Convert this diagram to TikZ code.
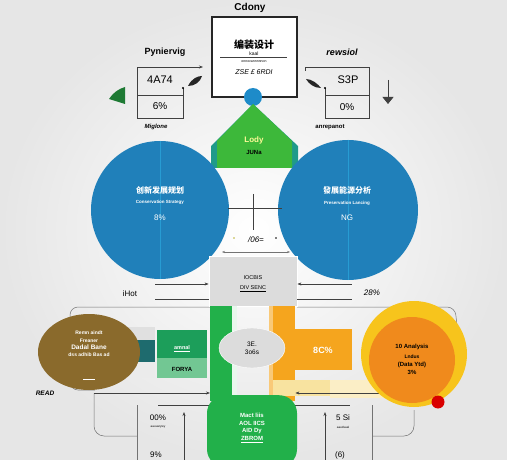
\documentclass[tikz,border=0pt]{standalone}
\usepackage{fontspec}
\setmainfont{Liberation Sans}
\newfontfamily\cjk{Noto Sans CJK SC}
\usetikzlibrary{arrows.meta,shapes.geometric,calc}
\definecolor{bg}{HTML}{E6E6E6}
\definecolor{cblue}{HTML}{2080BA}
\definecolor{dotblue}{HTML}{1E8BC9}
\definecolor{hgreen}{HTML}{3DB83A}
\definecolor{hteal}{HTML}{1F9A8A}
\definecolor{bgreen}{HTML}{22B04A}
\definecolor{dgreen}{HTML}{1C9E5A}
\definecolor{lgreen}{HTML}{72C793}
\definecolor{dteal}{HTML}{1E6B6E}
\definecolor{brown}{HTML}{8A6A2C}
\definecolor{orng}{HTML}{F5A51E}
\definecolor{dorng}{HTML}{F08A1C}
\definecolor{yell}{HTML}{F7C41C}
\definecolor{pyell}{HTML}{F8E3A0}
\definecolor{lgrey}{HTML}{DCDCDC}
\definecolor{leaf}{HTML}{1E7A34}
\tikzset{
  ln/.style={draw=black!75,line width=0.6pt},
  lnlight/.style={draw=black!55,line width=0.5pt},
  lbl/.style={font=\bfseries\fontsize{9}{10}\selectfont,inner sep=0pt},
  small/.style={font=\fontsize{5}{6}\selectfont,inner sep=0pt},
  numtxt/.style={font=\fontsize{10}{11}\selectfont,inner sep=0pt},
  wtxt/.style={text=white,font=\bfseries\fontsize{6}{7}\selectfont,inner sep=0pt,align=center},
  tip/.style={-{Stealth[length=4pt,width=3pt]}}
}
\begin{document}
\begin{tikzpicture}[x=1pt,y=-1pt]
\useasboundingbox (0,0) rectangle (507,460);
\shade[inner color=white,outer color=bg] (0,0) rectangle (507,460);

% top title and central box
\node[lbl,font=\bfseries\fontsize{10}{11}\selectfont] (title) at (250,8) {Cdony};
\node[draw=black!85,line width=1.3pt,fill=white,minimum width=85pt,minimum height=80pt,inner sep=0pt] (cbox) at (254.5,57) {};
\node[font=\cjk\bfseries\fontsize{10}{11}\selectfont,inner sep=0pt] (ctitle) at (254,45) {编装设计};
\node[small] (ckaal) at (254,54) {kaal};
\draw[ln] (220,57) -- (287,57);
\node[small,font=\fontsize{3.5}{4}\selectfont] (csub) at (254,62) {onnovannnnnon};
\node[font=\itshape\fontsize{7}{8}\selectfont,inner sep=0pt] (cval) at (254,72) {ZSE £ 6RDI};
\node[circle,fill=dotblue,minimum size=18pt,inner sep=0pt] (dot) at (253,97) {};

% green house
\fill[hteal] (253,104) -- (298,146) -- (298,168) -- (211,168) -- (211,146) -- cycle;
\fill[hgreen] (253,104) -- (292,141) -- (292,168) -- (217,168) -- (217,141) -- cycle;
\node[text=yellow!40,font=\bfseries\fontsize{8}{9}\selectfont,inner sep=0pt] (lody) at (254,140) {Lody};
\node[font=\bfseries\fontsize{6}{7}\selectfont,inner sep=0pt] (juna) at (254,152) {JUNa};

% left panel
\node[lbl] (ltitle) at (165,52) {Pyniervig};
\coordinate (lp1) at (183,88);
\coordinate (lp2) at (203,67);
\draw[ln,tip] (lp1) -- (183,118) -- (137,118) -- (137,67) -- (lp2);
\draw[ln] (137,95) -- (183,95);
\node[numtxt,font=\fontsize{11}{12}\selectfont] (lval) at (160,80) {4A74};
\node[numtxt] (lpct) at (160,106) {6\%};
\node[font=\bfseries\itshape\fontsize{6}{7}\selectfont,inner sep=0pt] (llab) at (156,127) {Miglone};
\fill[black!85] (188,86) .. controls (192,78) and (198,76) .. (202,76) .. controls (200,82) and (195,86) .. (188,86);
\fill[black] (lp1) circle (1.2);
\fill[leaf] (125,87) -- (125,104) -- (109,99) .. controls (113,93) and (118,89) .. (125,87);

% right panel
\node[lbl,font=\bfseries\itshape\fontsize{9}{10}\selectfont] (rtitle) at (342,52) {rewsiol};
\coordinate (rp1) at (325,88);
\coordinate (rp2) at (305,67);
\draw[ln] (rp1) -- (325,118) -- (369,118) -- (369,67) -- (rp2) -- ++(0,4);
\draw[ln] (325,95) -- (369,95);
\node[numtxt,font=\fontsize{11}{12}\selectfont] (rval) at (348,80) {S3P};
\node[numtxt] (rpct) at (347,107) {0\%};
\node[font=\bfseries\fontsize{6}{7}\selectfont,inner sep=0pt] (rlab) at (330,127) {anrepanot};
\fill[black!85] (306,79) .. controls (312,79) and (318,84) .. (321,88) .. controls (314,88) and (309,84) .. (306,79);
\fill[black] (rp1) circle (1.2);
\coordinate (rarr1) at (388,80);
\coordinate (rarr2) at (388,104);
\draw[ln,line width=0.8pt,-{Triangle[length=7pt,width=11pt]}] (rarr1) -- (rarr2);

% big circles
\node[circle,fill=cblue,minimum size=138pt,inner sep=0pt] (lc) at (160,210) {};
\draw[cyan!60!cblue,line width=0.7pt] (lc.north) -- (lc.south);
\node[wtxt,font=\cjk\bfseries\fontsize{8}{9}\selectfont] (lct) at (160,190) {创新发展规划};
\node[wtxt,font=\bfseries\fontsize{4.5}{5}\selectfont] (lcs) at (160,202) {Conservation Strategy};
\node[wtxt,font=\fontsize{8}{9}\selectfont] (lcv) at (160,218) {8\%};

\node[circle,fill=cblue,minimum size=140pt,inner sep=0pt] (rc) at (348,210) {};
\draw[cyan!60!cblue,line width=0.7pt] (rc.north) -- (rc.south);
\node[wtxt,font=\cjk\bfseries\fontsize{8}{9}\selectfont] (rct) at (347,190) {發展能源分析};
\node[wtxt,font=\bfseries\fontsize{4.5}{5}\selectfont] (rcs) at (347,203) {Preservation Lancing};
\node[wtxt,font=\fontsize{8}{9}\selectfont] (rcv) at (347,218) {NG};

% cross between circles
\coordinate (cx1) at (253,194);
\coordinate (cx2) at (253,230);
\coordinate (cy1) at (228,208);
\coordinate (cy2) at (282,208);
\draw[ln,line width=0.9pt] (cx1) -- (cx2);
\draw[ln,line width=0.9pt] (cy1) -- (cy2);
\node[font=\itshape\fontsize{8}{9}\selectfont,inner sep=0pt] (mid) at (256,240) {/06=};
\fill[yellow!70!black] (234,238) circle (0.9);
\fill[black] (276,238) circle (0.9);

% outline and lower lines (behind shapes)
\draw[lnlight,rounded corners=8pt] (95,390) -- (70,390) -- (70,307) -- (210,307);
\draw[lnlight,rounded corners=8pt] (297,307) -- (455,307) -- (458,335);
\draw[lnlight,rounded corners=10pt] (94,393) -- (94,436) -- (137,436);
\draw[lnlight,rounded corners=10pt] (372,436) -- (414,436) -- (414,410);
\coordinate (bl1) at (94,393);
\coordinate (br1) at (393,393);
\coordinate (bl2) at (158,405);
\coordinate (br2) at (350,405);

% middle grey box
\coordinate (ma1) at (222,252);
\coordinate (ma2) at (290,252);
\draw[lnlight,{Stealth[length=3pt]}-{Stealth[length=3pt]}] (ma1) -- (ma2);
\node[fill=lgrey,draw=white,line width=0.8pt,minimum width=88pt,minimum height=50pt,inner sep=0pt] (mbox) at (253,281) {};
\node[font=\fontsize{5.5}{6}\selectfont,inner sep=0pt] (mt1) at (253,278) {IOCBIS};
\node[font=\fontsize{5.5}{6}\selectfont,inner sep=0pt] (mt2) at (253,289) {\underline{DIV SENC}};
\coordinate (ll1) at (155,284);
\coordinate (ll2) at (155,299);
\coordinate (rl1) at (352,284);
\coordinate (rl2) at (352,299);
\draw[ln,tip] (ll1) -- (mbox.west |- ll1);
\draw[ln] (ll2) -- (mbox.west |- ll2);
\draw[ln,{Stealth[length=4pt,width=3pt]}-] (mbox.east |- rl1) -- (rl1);
\draw[ln] (mbox.east |- rl2) -- (rl2);
\node[font=\fontsize{8}{9}\selectfont,inner sep=0pt] (hot) at (130,294) {iHot};
\node[font=\itshape\fontsize{8}{9}\selectfont,inner sep=0pt] (p28) at (372,293) {28\%};

% lower bars
\node[fill=bgreen,minimum width=22pt,minimum height=95pt,inner sep=0pt,anchor=north west] (gbar) at (210,306) {};
\fill[white!90!bgreen] (232,306) rectangle (237,400);
\node[fill=orng,minimum width=22pt,minimum height=95pt,inner sep=0pt,anchor=north west] (obarv) at (273,306) {};
\fill[orng!60!white] (269,306) rectangle (273,400);
\node[fill=orng,minimum width=58pt,minimum height=41pt,inner sep=0pt] (obar) at (323,349) {};
\node[text=white,font=\bfseries\fontsize{9}{10}\selectfont,inner sep=0pt] (p8c) at (323,350) {8C\%};
\fill[pyell] (273,380) rectangle (350,396);
\fill[pyell!60!white] (330,380) rectangle (420,398);
\draw[ln,tip] (bl1) -- (gbar.west |- bl1);
\draw[ln] (bl2) -- (gbar.west |- bl2);
\draw[ln,{Stealth[length=4pt,width=3pt]}-] (obarv.east |- br1) -- (br1);
\draw[ln] (obarv.east |- br2) -- (br2);
\node[ellipse,fill=lgrey,draw=white,minimum width=66pt,minimum height=40pt,inner sep=0pt] (mell) at (252,348) {};
\node[font=\fontsize{6.5}{7}\selectfont,inner sep=0pt,align=center] (mellt) at (252,348) {3E.\\[1pt]3o6s};

% green rect, teal rect, brown ellipse
\fill[black!12] (118,327) rectangle (155,340);
\node[fill=dteal,minimum width=37pt,minimum height=22pt,inner sep=0pt,anchor=north west] (teal) at (118,340) {};
\fill[black!8] (118,362) rectangle (155,378);
\node[fill=dgreen,minimum width=50pt,minimum height=28pt,inner sep=0pt,anchor=north west] (gtop) at (157,330) {};
\node[fill=lgreen,minimum width=50pt,minimum height=20pt,inner sep=0pt,anchor=north west] (gbot) at (157,358) {};
\node[text=white,font=\bfseries\fontsize{5.5}{6}\selectfont,inner sep=0pt] (amnal) at (182,349) {\underline{amnal}};
\node[font=\bfseries\fontsize{6}{7}\selectfont,inner sep=0pt] (forya) at (182,369) {FORYA};

\node[ellipse,fill=brown,minimum width=102pt,minimum height=76pt,inner sep=0pt] (bell) at (89,352) {};
\node[text=white,font=\bfseries\fontsize{5}{6}\selectfont,inner sep=0pt,align=center] (bt) at (89,344) {Remn aindt\\[2pt]Freaner\\[1pt]{\fontsize{6.5}{7}\selectfont Dadal Bane}\\[1pt]dss adhib Bas ad};
\draw[white,line width=0.6pt] (83,379) -- (95,379);
\node[font=\bfseries\itshape\fontsize{6.5}{7}\selectfont,inner sep=0pt] (read) at (45,393) {READ};

% orange circle right
\node[circle,fill=yell,minimum size=106pt,inner sep=0pt] (ycirc) at (414,354) {};
\node[circle,fill=dorng,minimum size=86pt,inner sep=0pt] (ocirc) at (412,360) {};
\node[font=\bfseries\fontsize{6}{7}\selectfont,inner sep=0pt,align=center] (ot) at (412,359) {10 Analysis\\[3pt]{\fontsize{5}{6}\selectfont Lndus}\\[1pt](Data Ytd)\\[1pt]3\%};
\node[circle,fill=red!85!black,minimum size=13pt,inner sep=0pt] (rdot) at (438,402) {};

% bottom green shape
\node[fill=bgreen,rounded corners=18pt,minimum width=90pt,minimum height=72pt,inner sep=0pt,anchor=north] (gbot2) at (252,395) {};
\node[text=white,font=\bfseries\fontsize{6}{7.5}\selectfont,inner sep=0pt,align=center] (gbt) at (252,428) {Mact liis\\AOL IICS\\AID Dy\\\underline{ZBROM}};

% bottom numbers
\node[font=\fontsize{8}{9}\selectfont,inner sep=0pt] (n00) at (158,418) {00\%};
\node[font=\fontsize{3}{4}\selectfont,inner sep=0pt] (n00s) at (158,427) {aauuarywy};
\node[font=\fontsize{8}{9}\selectfont,inner sep=0pt] (n9) at (156,455) {9\%};
\node[font=\fontsize{8}{9}\selectfont,inner sep=0pt] (n5) at (343,418) {5 Si};
\node[font=\fontsize{3}{4}\selectfont,inner sep=0pt] (n5s) at (343,427) {aaudsaal};
\node[font=\fontsize{8}{9}\selectfont,inner sep=0pt] (n6) at (340,455) {(6)};
\coordinate (v1a) at (137,405); \coordinate (v1b) at (137,460);
\coordinate (v2a) at (184,412); \coordinate (v2b) at (184,460);
\coordinate (v3a) at (325,412); \coordinate (v3b) at (325,460);
\coordinate (v4a) at (372,405); \coordinate (v4b) at (372,460);
\draw[lnlight] (v1a) -- (v1b);
\draw[ln,-{Stealth[length=4pt,width=3pt]}] (v2b) -- (v2a);
\draw[ln,-{Stealth[length=4pt,width=3pt]}] (v3b) -- (v3a);
\draw[lnlight] (v4a) -- (v4b);
\end{tikzpicture}
\end{document}
